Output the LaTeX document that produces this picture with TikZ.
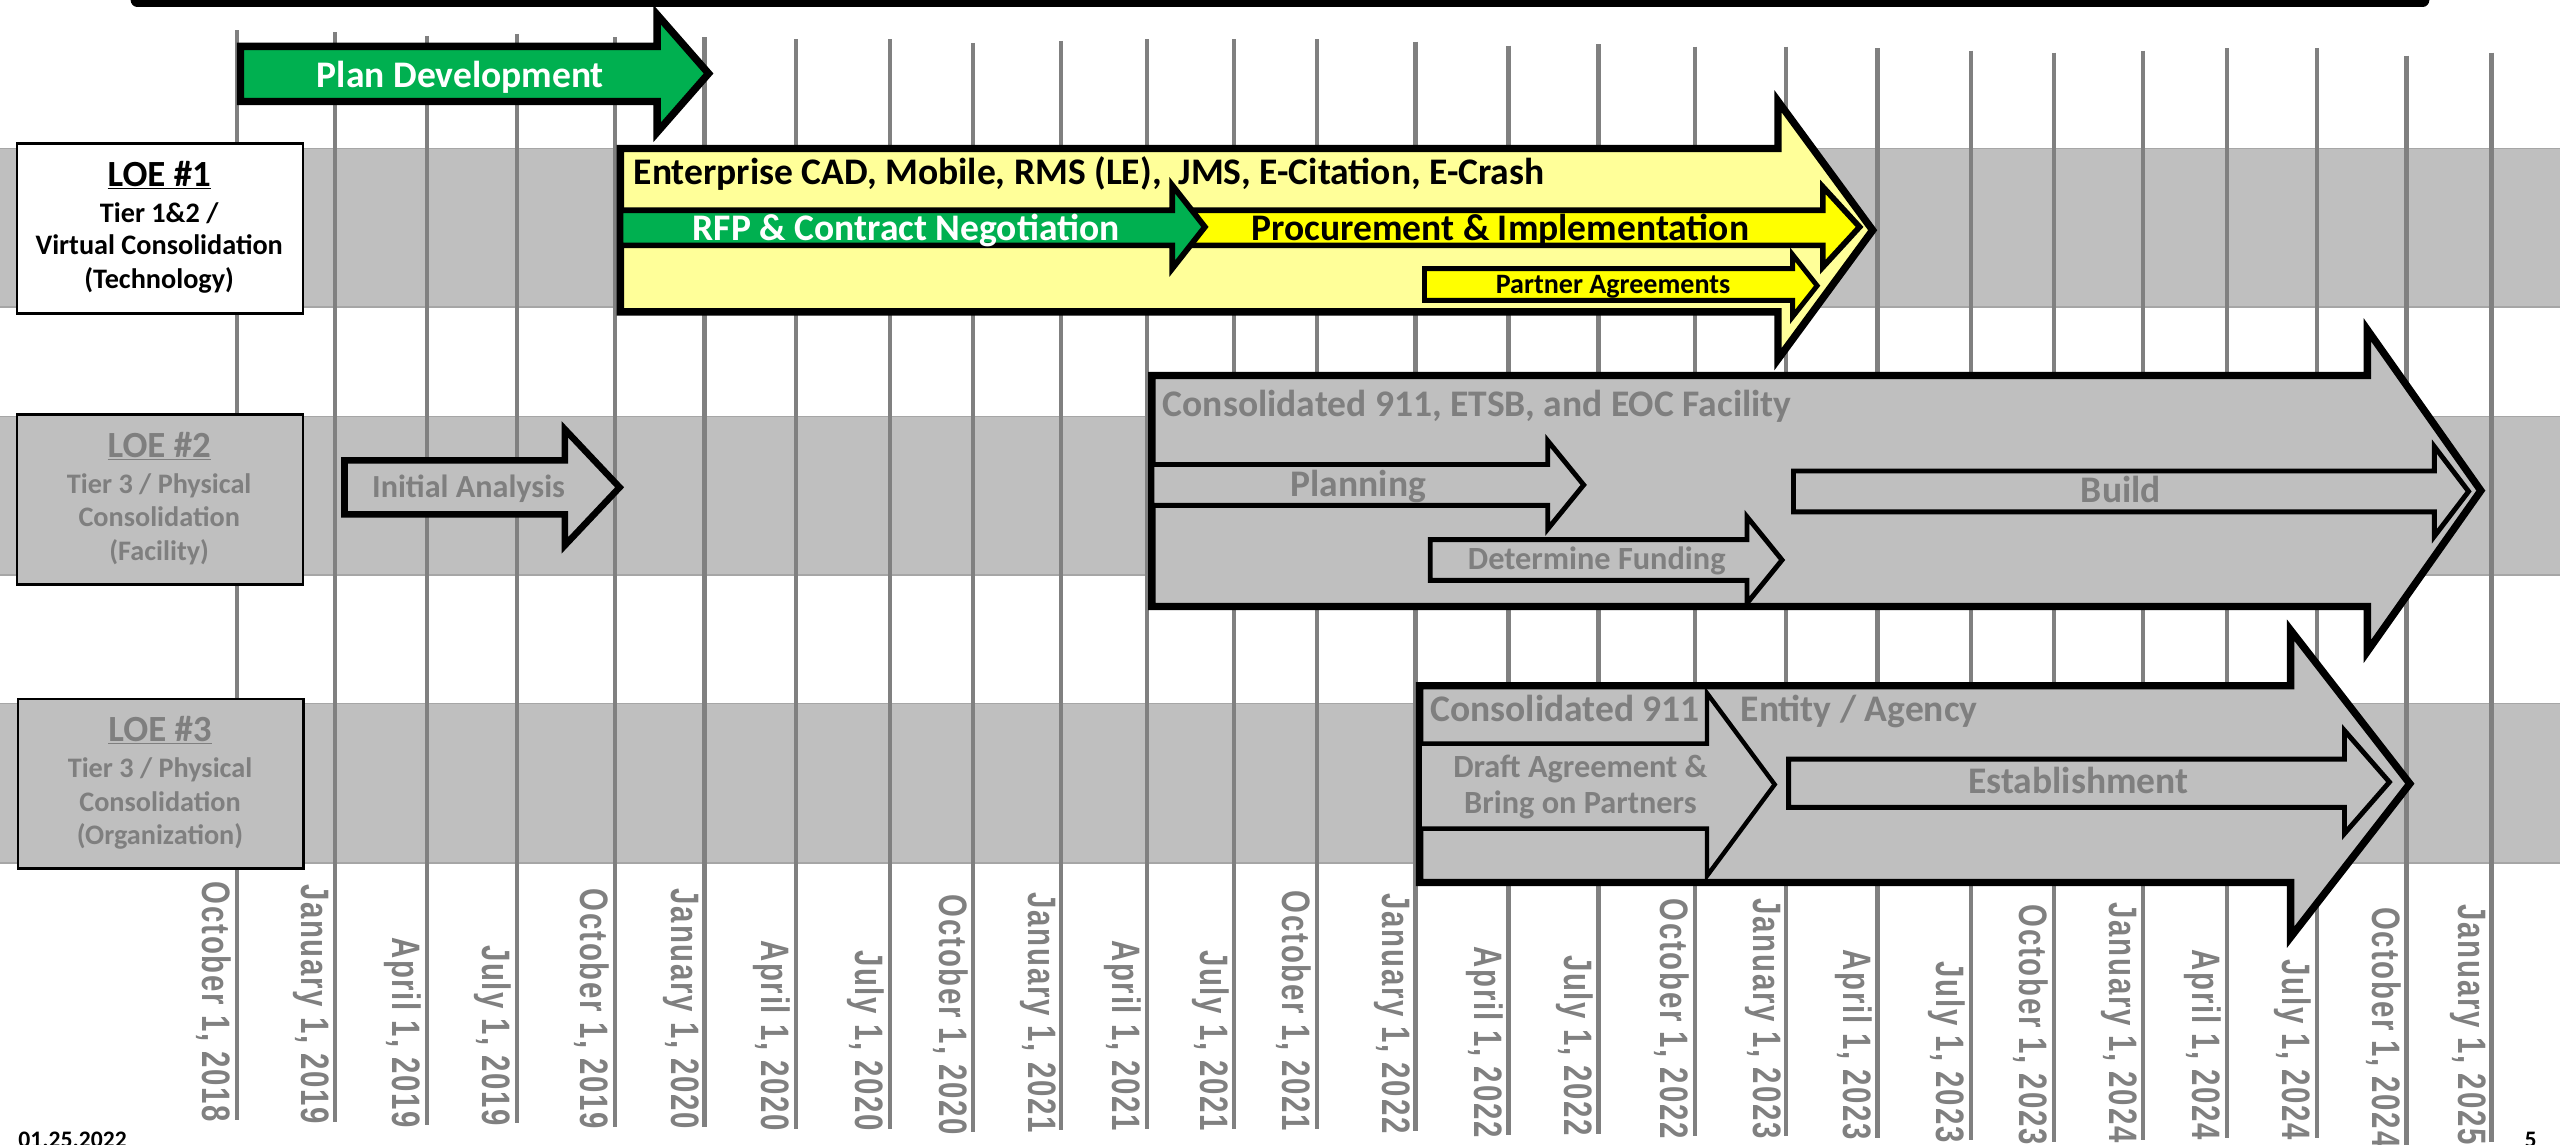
\documentclass[tikz,border=0pt]{standalone}
\usepackage{fontspec}
\setmainfont{Carlito}
\newfontfamily\datefont[LetterSpace=6]{Liberation Sans}
\usepackage{graphicx}
\definecolor{pgreen}{HTML}{00B050}
\definecolor{lyellow}{HTML}{FFFF99}
\definecolor{pyellow}{HTML}{FFFF00}
\definecolor{bandgray}{HTML}{BFBFBF}
\definecolor{txtgray}{HTML}{7F7F7F}
\definecolor{gridgray}{HTML}{808080}
\definecolor{bandedge}{HTML}{A6A6A6}
\newcommand\fsz[1]{\fontsize{#1}{#1}\selectfont}
% style, x1, ytop, ybot, xhead, headtop, headbot, xtip
\newcommand\blkarrow[8]{%
  \draw[draw=black, line join=miter, miter limit=20, #1]
    (#2,#3) -- (#5,#3) -- (#5,#6) -- (#8,{(#6+#7)/2}) -- (#5,#7) -- (#5,#4) -- (#2,#4) -- cycle;}
\tikzset{
  lbl/.style={inner sep=0, font=\bfseries\fsz{23}},
  sublbl/.style={inner sep=0, font=\bfseries\fsz{17.3}},
  loebox/.style={draw=black, line width=1.5, minimum width=175, minimum height=104, inner sep=0},
  datelbl/.style={anchor=north east, rotate=-90, inner sep=0, text=gridgray, font=\datefont\bfseries\fsz{18}},
}
\begin{document}
\begin{tikzpicture}[x=1pt,y=-1pt]
\useasboundingbox (0,0) rectangle (1568,701);
\clip (0,0) rectangle (1568,701);
% top bar
\coordinate (barL) at (84,0);
\coordinate (barR) at (1484,0);
\draw[line width=8, line cap=round] (barL) -- (barR);
% bands
\foreach \t/\b in {91/188, 255/352, 431/528.5}
  \draw[bandedge, fill=bandgray, line width=1] (-2,\t) rectangle (1575,\b);
% grid lines and date labels
\foreach \x/\t/\lab [count=\i] in {
  145/18.4/{October 1, 2018}, 205/19.7/{January 1, 2019}, 261.5/22/{April 1, 2019},
  316.6/20.8/{July 1, 2019}, 376.5/22.7/{October 1, 2019}, 431.5/22.7/{January 1, 2020},
  487.5/23.9/{April 1, 2020}, 545/23.9/{July 1, 2020}, 596/26.3/{October 1, 2020},
  650/25/{January 1, 2021}, 702.5/23.9/{April 1, 2021}, 756/23.9/{July 1, 2021},
  806.5/23.9/{October 1, 2021}, 867/25.5/{January 1, 2022}, 924/28/{April 1, 2022},
  979/27/{July 1, 2022}, 1038/28.6/{October 1, 2022}, 1094/28.6/{January 1, 2023},
  1150/29.6/{April 1, 2023}, 1207/31/{July 1, 2023}, 1258/32.3/{October 1, 2023},
  1312.5/31/{January 1, 2024}, 1364/29.6/{April 1, 2024}, 1419/29.6/{July 1, 2024},
  1474/34/{October 1, 2024}, 1526/32.3/{January 1, 2025}}{
  \coordinate (gt\i) at (\x,\t);
  \coordinate (gb\i) at (\x,\t+667.3);
  \draw[gridgray, line width=2.6] (gt\i) -- (gb\i);
  \node[datelbl] (d\i) at (\x-3,\t+669) {\scalebox{1}[1.35]{\lab}};
}
% LOE boxes
\node[loebox, fill=white] (loe1) at (98,140) {};
\node[loebox, fill=bandgray] (loe2) at (98,306) {};
\node[loebox, fill=bandgray] (loe3) at (98.5,480) {};
\node[lbl, anchor=base, font=\bfseries\fsz{22.6}] (loe1a) at (97.5,114) {\underline{LOE \#1}};
\node[sublbl, anchor=base] (loe1b) at (97.5,136) {Tier 1\&2 /};
\node[sublbl, anchor=base] (loe1c) at (97.5,156) {Virtual Consolidation};
\node[sublbl, anchor=base] (loe1d) at (97.5,176.5) {(Technology)};
\begin{scope}[every node/.append style={text=txtgray}]
\node[lbl, anchor=base, font=\bfseries\fsz{22.6}] (loe2a) at (97.5,280) {\underline{LOE \#2}};
\node[sublbl, anchor=base] (loe2b) at (97.5,302) {Tier 3 / Physical};
\node[sublbl, anchor=base] (loe2c) at (97.5,322.5) {Consolidation};
\node[sublbl, anchor=base] (loe2d) at (97.5,343) {(Facility)};
\node[lbl, anchor=base, font=\bfseries\fsz{22.6}] (loe3a) at (98,454) {\underline{LOE \#3}};
\node[sublbl, anchor=base] (loe3b) at (98,476) {Tier 3 / Physical};
\node[sublbl, anchor=base] (loe3c) at (98,497) {Consolidation};
\node[sublbl, anchor=base] (loe3d) at (98,517.5) {(Organization)};
\end{scope}
% Row 1 arrows
\blkarrow{fill=pgreen, line width=4.5}{147.3}{28.4}{62.2}{402.5}{9}{81}{434}
\node[lbl, anchor=base, text=white] (plan) at (282,53.5) {Plan Development};
\blkarrow{fill=lyellow, line width=4.5}{380}{91}{191}{1089}{62}{220}{1147}
\node[lbl, anchor=base west] (ent) at (388,113) {Enterprise CAD, Mobile, RMS (LE),\ \ JMS, E-Citation, E-Crash};
\blkarrow{fill=pyellow, line width=3.5}{718}{128.8}{150.3}{1116.5}{114.5}{163.5}{1139}
\blkarrow{fill=pgreen, line width=3.5}{380}{128.8}{150.3}{718}{113.5}{164.5}{738}
\node[lbl, anchor=base, text=white] (rfp) at (555,147) {RFP \& Contract Negotiation};
\node[lbl, anchor=base] (proc) at (919,147) {Procurement \& Implementation};
\blkarrow{fill=pyellow, line width=3}{872.5}{164.5}{184}{1098}{156}{194}{1113}
\node[lbl, anchor=base, font=\bfseries\fsz{17.2}] (partner) at (988,179.5) {Partner Agreements};
% Row 2 arrows
\begin{scope}[every node/.append style={text=txtgray}]
\blkarrow{fill=bandgray, line width=4}{211}{282}{315}{346}{263}{334}{379.5}
\node[lbl, anchor=base, font=\bfseries\fsz{19.7}] (init) at (287,305) {Initial Analysis};
\blkarrow{fill=bandgray, line width=4.5}{705.5}{230}{371.5}{1450}{202}{399}{1519.5}
\node[lbl, anchor=base west] (fac) at (712,255) {Consolidated 911, ETSB, and EOC Facility};
\blkarrow{fill=bandgray, line width=3}{705.5}{284.5}{309.5}{948}{270}{324}{970}
\node[lbl, anchor=base] (planning) at (832,304) {Planning};
\blkarrow{fill=bandgray, line width=3}{876}{330.5}{355.5}{1070}{316.5}{369.5}{1091.5}
\node[lbl, anchor=base, font=\bfseries\fsz{19.8}] (fund) at (978,349) {Determine Funding};
\blkarrow{fill=bandgray, line width=3}{1098.5}{288.5}{313.5}{1491}{273.5}{328.5}{1512}
\node[lbl, anchor=base] (build) at (1299,308) {Build};
% Row 3 arrows
\blkarrow{fill=bandgray, line width=4.5}{869.5}{420}{540.5}{1403}{386}{574}{1476}
\blkarrow{fill=bandgray, line width=2.7}{869.5}{455.5}{507.5}{1045.5}{424.5}{536.5}{1087}
\node[lbl, anchor=base west] (c911) at (876,442) {Consolidated 911};
\node[lbl, anchor=base west] (entity) at (1066,442) {Entity / Agency};
\node[lbl, anchor=base, font=\bfseries\fsz{19.8}] (draft) at (968,476) {Draft Agreement \&};
\node[lbl, anchor=base, font=\bfseries\fsz{19.8}] (bring) at (968,498) {Bring on Partners};
\blkarrow{fill=bandgray, line width=3}{1095.5}{465}{494.5}{1436}{447.5}{510.5}{1463.5}
\node[lbl, anchor=base] (estab) at (1273,486) {Establishment};
\end{scope}
% footer
\node[lbl, anchor=base west, font=\bfseries\fsz{14.5}] (date) at (11,703) {01.25.2022};
\node[lbl, anchor=base, font=\bfseries\fsz{14.5}] (page) at (1550,703) {5};
\end{tikzpicture}
\end{document}
